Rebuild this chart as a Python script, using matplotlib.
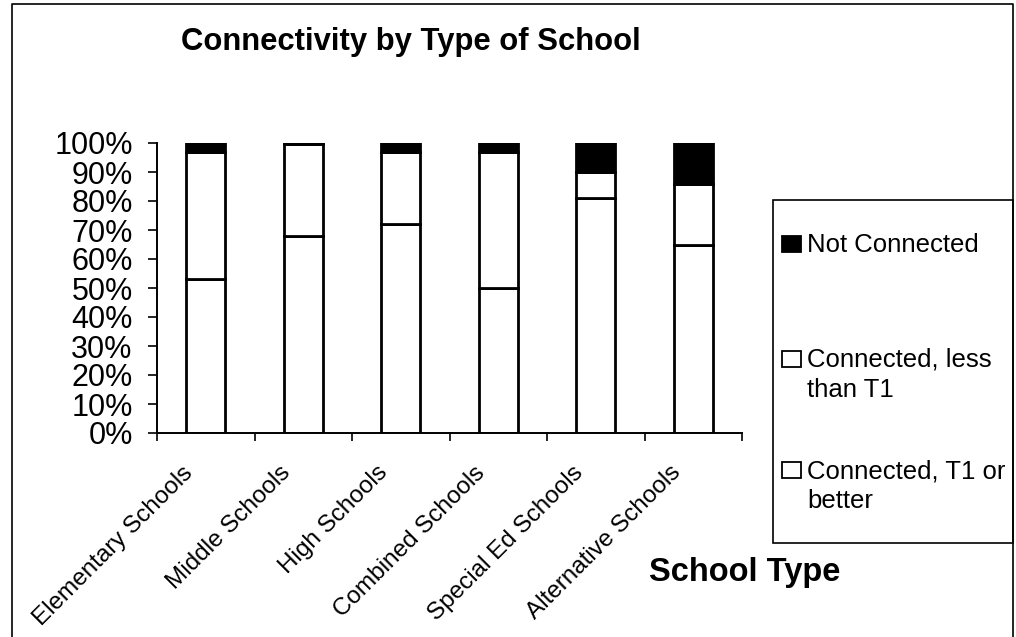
import matplotlib
matplotlib.use("Agg")
import matplotlib.pyplot as plt
import matplotlib.transforms as mtransforms
import numpy as np
from matplotlib.patches import Rectangle
from matplotlib.lines import Line2D

plt.rcParams['font.family'] = ['Liberation Sans', 'DejaVu Sans']

schools = ["Elementary Schools", "Middle Schools", "High Schools",
           "Combined Schools", "Special Ed Schools", "Alternative Schools"]
t1_or_better = [53, 68, 72, 50, 81, 65]
less_than_t1 = [44, 31.5, 25, 47, 9, 21]
not_connected = [3, 0.5, 3, 3, 10, 14]

series_labels = ["Not Connected", "Connected, less\nthan T1", "Connected, T1 or\nbetter"]
series_colors = ["black", "white", "white"]

W, H = 1016, 637
fig = plt.figure(figsize=(W / 100, H / 100), dpi=100)
ax = fig.add_axes([157 / W, 1 - 433 / H, (742 - 157) / W, (433 - 143) / H])

x = np.arange(len(schools))
w = 0.4
bottom2 = np.array(t1_or_better)
bottom3 = bottom2 + np.array(less_than_t1)
ax.bar(x, t1_or_better, w, color="white", edgecolor="black", linewidth=2)
ax.bar(x, less_than_t1, w, bottom=bottom2, color="white", edgecolor="black", linewidth=2)
ax.bar(x, not_connected, w, bottom=bottom3, color="black", edgecolor="black", linewidth=2)

ax.set_xlim(-0.5, len(schools) - 0.5)
ax.set_ylim(0, 100)
ax.set_yticks(np.arange(0, 101, 10))
ax.set_yticklabels([f"{v}%" for v in range(0, 101, 10)], fontsize=22)
ax.tick_params(axis="y", length=6.5, width=1.2, pad=11)

ax.set_xticks(x)
ax.set_xticklabels(schools, rotation=45, ha="right", rotation_mode="anchor", fontsize=17.5)
ax.tick_params(axis="x", which="major", length=0, pad=12)
ax.set_xticks(np.arange(-0.5, len(schools), 1), minor=True)
ax.tick_params(axis="x", which="minor", length=6, width=1.2)
# nudge the slanted category names down and left
shift = mtransforms.ScaledTranslation(-24 / 100, -12 / 100, fig.dpi_scale_trans)
for lbl in ax.get_xticklabels():
    lbl.set_transform(lbl.get_transform() + shift)

for s in ["top", "right"]:
    ax.spines[s].set_visible(False)
ax.spines["left"].set_linewidth(1.4)
ax.spines["bottom"].set_linewidth(1.4)

fig.text(411 / W, 1 - 42 / H, "Connectivity by Type of School",
         fontsize=22.3, fontweight="bold", ha="center", va="center")
fig.text(745 / W, 1 - 572 / H, "School Type",
         fontsize=23.5, fontweight="bold", ha="center", va="center")

# legend box on the right
fig.add_artist(Rectangle((773 / W, 1 - 543 / H), (1013 - 773) / W, (543 - 200) / H,
                         transform=fig.transFigure, facecolor="white",
                         edgecolor="black", linewidth=1.2))
baselines = [252, 367, 478]
for lab, col, base in zip(series_labels, series_colors, baselines):
    fig.add_artist(Rectangle((782 / W, 1 - base / H), 19 / W, 16 / H,
                             transform=fig.transFigure, facecolor=col,
                             edgecolor="black", linewidth=1.3))
    for i, line in enumerate(lab.split("\n")):
        fig.text(807 / W, 1 - (base + 30 * i) / H, line, fontsize=18.5,
                 ha="left", va="baseline")

# outer chart frame
fig.add_artist(Line2D([12 / W, 12 / W, 1013 / W, 1013 / W], [0, 1 - 4 / H, 1 - 4 / H, 0],
                      transform=fig.transFigure, color="black", linewidth=1.2))

fig.savefig("out.png", dpi=100)
